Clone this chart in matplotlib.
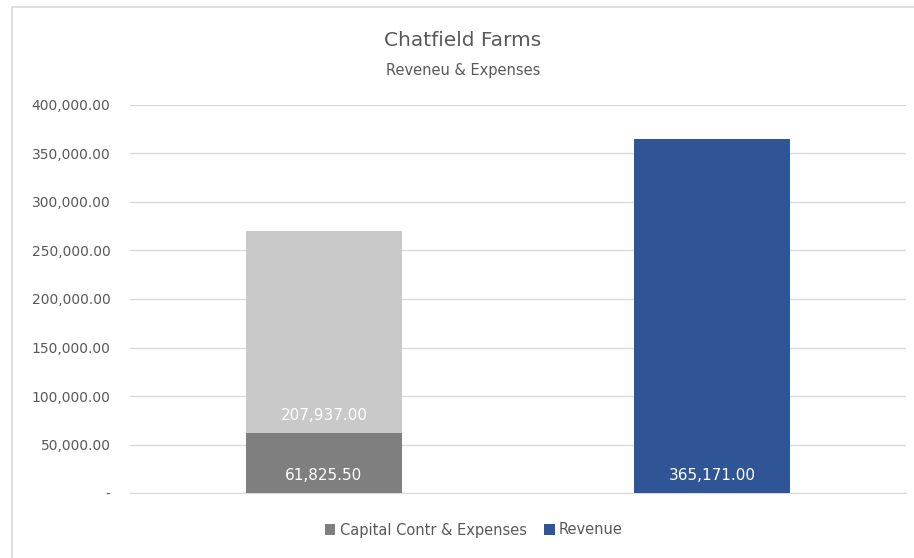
import matplotlib.pyplot as plt
from matplotlib.patches import Rectangle

# data
categories = ["Expenses", "Revenue"]
capital_expenses = [61825.50, 0]
other_expenses = [207937.00, 0]
revenue = [0, 365171.00]
y_ticks = [0, 50000, 100000, 150000, 200000, 250000, 300000, 350000, 400000]

plt.rcParams["font.family"] = ["DejaVu Sans"]
TXT = "#595959"

W, H = 914, 558
fig = plt.figure(figsize=(W / 100, H / 100), dpi=100, facecolor="white")

# chart border
fig.patches.append(Rectangle((12 / W, -0.1), 1, 1.1 - 7 / H, transform=fig.transFigure,
                             fill=False, edgecolor="#D9D9D9", linewidth=1.2))

ax = fig.add_axes([130 / W, (H - 493) / H, (906 - 130) / W, (493 - 105) / H])
x = range(len(categories))
bw = 0.40

b1 = ax.bar(x[0], capital_expenses[0], width=bw, color="#7F7F7F", zorder=3,
            label="Capital Contr & Expenses")
b2 = ax.bar(x[0], other_expenses[0], bottom=capital_expenses[0], width=bw,
            color="#C9C9C9", zorder=3)
b3 = ax.bar(x[1], revenue[1], width=bw, color="#2F5597", zorder=3, label="Revenue")

def fmt(v):
    return f"{v:,.2f}"

px = 400000 / 388
ax.text(x[0], 17 * px, fmt(capital_expenses[0]), ha="center", va="center",
        color="white", fontsize=11, zorder=4)
ax.text(x[0], capital_expenses[0] + 18 * px, fmt(other_expenses[0]), ha="center",
        va="center", color="white", fontsize=11, zorder=4)
ax.text(x[1], 17 * px, fmt(revenue[1]), ha="center", va="center",
        color="white", fontsize=11, zorder=4)

ax.set_xlim(-0.5, 1.5)
ax.set_ylim(0, 400000)
ax.set_yticks(y_ticks)
ax.set_yticklabels(["-" if t == 0 else fmt(t) for t in y_ticks], color=TXT, fontsize=10)
ax.set_xticks([])
ax.tick_params(axis="y", length=0, pad=14)
ax.grid(axis="y", color="#D9D9D9", linewidth=1, zorder=0)
for s in ["top", "right", "left"]:
    ax.spines[s].set_visible(False)
ax.spines["bottom"].set_color("#D9D9D9")
ax.spines["bottom"].set_zorder(0)

fig.text(463 / W, 1 - 40 / H, "Chatfield Farms", ha="center", va="center", fontsize=14.5, color=TXT)
fig.text(463 / W, 1 - 70 / H, "Reveneu & Expenses", ha="center", va="center", fontsize=10.5, color=TXT)

fig.legend(handles=[b1, b3], loc="center", bbox_to_anchor=(474 / W, 1 - 530 / H), ncol=2,
           frameon=False, fontsize=10.5, labelcolor=TXT, handlelength=0.7, handleheight=0.7,
           handletextpad=0.3, columnspacing=1.2)

fig.savefig("out.png", dpi=100, facecolor="white")
